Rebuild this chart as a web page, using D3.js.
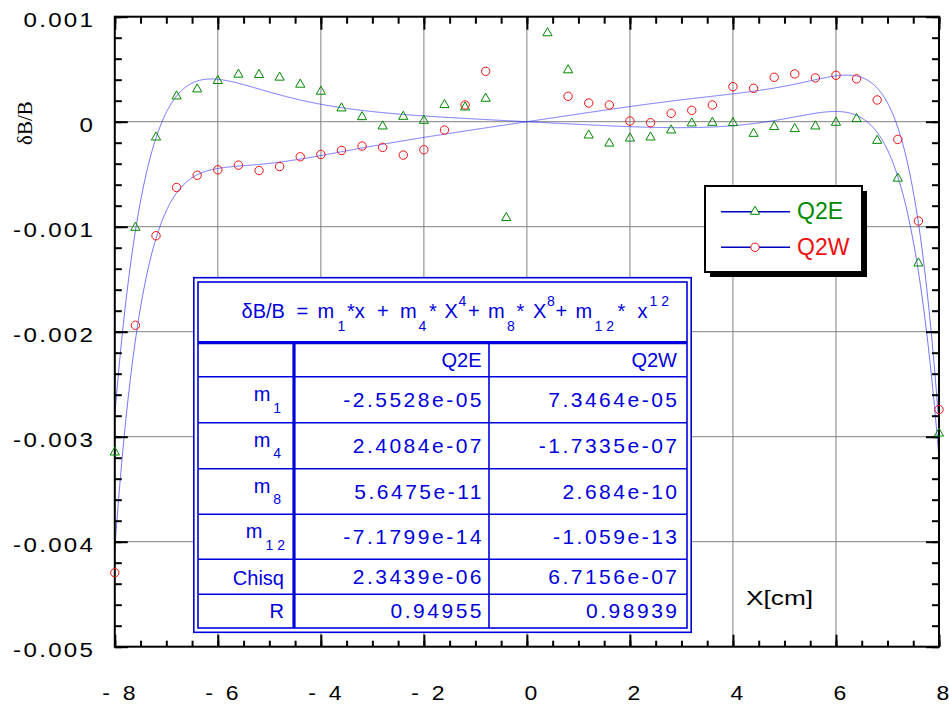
<!DOCTYPE html>
<html>
<head>
<meta charset="utf-8">
<script src="https://cdn.jsdelivr.net/npm/d3@7"></script>
<style>
  body { margin: 0; background: #fff; }
  svg { display: block; font-family: "Liberation Sans", Arial, Helvetica, sans-serif; }
</style>
</head>
<body>
<svg id="chart" width="949" height="706"></svg>
<script>
// ---- measured field error, dB/B versus transverse position X[cm] ----
const q2eX = [-8, -7.6, -7.2, -6.8, -6.4, -6.0, -5.6, -5.2, -4.8, -4.4, -4.0, -3.6, -3.2, -2.8, -2.4, -2.0, -1.6, -1.2, -0.8, -0.4,
              0.4, 0.8, 1.2, 1.6, 2.0, 2.4, 2.8, 3.2, 3.6, 4.0, 4.4, 4.8, 5.2, 5.6, 6.0, 6.4, 6.8, 7.2, 7.6, 8.0];
const q2eY = [-0.00314, -0.00100, -0.000140, 0.000251, 0.000318, 0.000398, 0.000458, 0.000455, 0.000430, 0.000363,
              0.000296, 0.000137, 0.000054, -0.000035, 0.000057, 0.000019, 0.000169, 0.000146, 0.000229, -0.000907,
              0.000853, 0.000500, -0.000121, -0.000198, -0.000150, -0.000140, -0.000073, -0.000006, 0.000000, -0.000003,
              -0.000105, -0.000041, -0.000060, -0.000035, 0.000000, 0.000035, -0.000172, -0.000532, -0.00134, -0.00296];

const q2wX = [-8, -7.6, -7.2, -6.8, -6.4, -6.0, -5.6, -5.2, -4.8, -4.4, -4.0, -3.6, -3.2, -2.8, -2.4, -2.0, -1.6, -1.2, -0.8,
              0.8, 1.2, 1.6, 2.0, 2.4, 2.8, 3.2, 3.6, 4.0, 4.4, 4.8, 5.2, 5.6, 6.0, 6.4, 6.8, 7.2, 7.6, 8.0];
const q2wY = [-0.004295, -0.001939, -0.001086, -0.000627, -0.000510, -0.000458, -0.000414, -0.000465, -0.000427, -0.000334,
              -0.000312, -0.000274, -0.000232, -0.000245, -0.000318, -0.000267, -0.000079, 0.000159, 0.000480,
              0.000242, 0.000178, 0.000159, 0.000006, -0.000010, 0.000080, 0.000108, 0.000159, 0.000334, 0.000318,
              0.000423, 0.000455, 0.000417, 0.000442, 0.000408, 0.000207, -0.000169, -0.000946, -0.002741];

// ---- fit: dB/B = m1*x + m4*x^4 + m8*x^8 + m12*x^12 ----
const fitPowers = [1, 4, 8, 12];
const fitNames = ["1", "4", "8", "1 2"];
const q2eCoef = [-2.5528e-05, 2.4084e-07, 5.6475e-11, -7.1799e-14];
const q2wCoef = [7.3464e-05, -1.7335e-07, 2.684e-10, -1.059e-13];
const seriesNames = ["Q2E", "Q2W"];
const chisqValues = [2.3439e-06, 6.7156e-07];
const rValues = ["0.94955", "0.98939"];

// ---- axis ticks ----
const xTickValues = [-8, -6, -4, -2, 0, 2, 4, 6, 8];
const xTickLabels = ["-  8", "-  6", "-  4", "-  2", "0", "2", "4", "6", "8"];
const yTickValues = [0.001, 0, -0.001, -0.002, -0.003, -0.004, -0.005];
const yTickLabels = ["0.001", "0", "-0.001", "-0.002", "-0.003", "-0.004", "-0.005"];

const GREEN = "#008a00", RED = "#ee1111", BLUE = "#0000dd";

const svg = d3.select("#chart");
const L = 114.8, R = 939, T = 16.7, B = 646.7;
const x = d3.scaleLinear().domain([-8, 8]).range([L, R]);
const y = d3.scaleLinear().domain([-0.005, 0.001]).range([B, T]);

// grid
const grid = svg.append("g").attr("stroke", "#808080").attr("stroke-width", 1);
grid.selectAll("line.gx").data(d3.range(-6, 6.1, 2)).join("line")
  .attr("x1", d => x(d)).attr("x2", d => x(d)).attr("y1", T).attr("y2", B);
grid.selectAll("line.gy").data(d3.range(-0.004, 0.0001, 0.001)).join("line")
  .attr("y1", d => y(d)).attr("y2", d => y(d)).attr("x1", L).attr("x2", R);

// fitted curves
const defs = svg.append("defs");
defs.append("clipPath").attr("id", "plotClip").append("rect")
  .attr("x", L).attr("y", T).attr("width", R - L).attr("height", B - T);
const fit = (coef) => (v) => d3.sum(coef, (c, i) => c * Math.pow(v, fitPowers[i]));
const xs = d3.range(-8, 8.0001, 0.01);
const line = d3.line().x(d => x(d[0])).y(d => y(d[1]));
const curves = svg.append("g").attr("clip-path", "url(#plotClip)");
[q2eCoef, q2wCoef].forEach(coef => {
  const f = fit(coef);
  curves.append("path").datum(xs.map(v => [v, f(v)]))
    .attr("d", line).attr("fill", "none").attr("stroke", "#2a2aff")
    .attr("stroke-opacity", 0.65).attr("stroke-width", 1);
});

// axes (ticks point inward)
function styleAxis(g) {
  g.select(".domain").remove();
  g.selectAll(".tick line").attr("stroke", "#000").attr("stroke-width", 2);
}
const yMinor = d3.range(-0.005, 0.00101, 0.0002);
const xMinor = d3.range(-8, 8.01, 0.5);
svg.append("g").attr("transform", `translate(${L},0)`)
  .call(d3.axisLeft(y).tickValues(yMinor).tickSize(-7).tickFormat("")).call(styleAxis);
svg.append("g").attr("transform", `translate(${R},0)`)
  .call(d3.axisRight(y).tickValues(yMinor).tickSize(-7).tickFormat("")).call(styleAxis);
svg.append("g").attr("transform", `translate(${R},0)`)
  .call(d3.axisRight(y).tickValues(yTickValues).tickSize(-13).tickFormat("")).call(styleAxis);
svg.append("g").attr("transform", `translate(0,${T})`)
  .call(d3.axisTop(x).tickValues(xMinor).tickSize(-7).tickFormat("")).call(styleAxis);
svg.append("g").attr("transform", `translate(0,${T})`)
  .call(d3.axisTop(x).tickValues(xTickValues).tickSize(-13).tickFormat("")).call(styleAxis);
svg.append("g").attr("transform", `translate(0,${B})`)
  .call(d3.axisBottom(x).tickValues(xMinor).tickSize(-6).tickFormat("")).call(styleAxis);

// axis labels use a slightly widened face
const yAxis = svg.append("g").attr("transform", `translate(${L},0)`)
  .call(d3.axisLeft(y).tickValues(yTickValues).tickSize(-13)
        .tickFormat((d, i) => yTickLabels[i])).call(styleAxis);
yAxis.selectAll(".tick text")
  .attr("x", null).attr("y", null).attr("dy", null)
  .attr("transform", "translate(-19.5,10) scale(1.15,1)")
  .attr("fill", "#000").attr("font-size", 21).attr("letter-spacing", 2)
  .attr("font-family", '"Liberation Sans", Arial, sans-serif');

const xAxis = svg.append("g").attr("transform", `translate(0,${B})`)
  .call(d3.axisBottom(x).tickValues(xTickValues).tickSize(-12)
        .tickFormat((d, i) => xTickLabels[i])).call(styleAxis);
xAxis.selectAll(".tick text")
  .attr("x", null).attr("y", null).attr("dy", null)
  .attr("transform", "translate(3.5,53) scale(1.15,1)")
  .style("white-space", "pre")
  .attr("fill", "#000").attr("font-size", 20)
  .attr("font-family", '"Liberation Sans", Arial, sans-serif');

// frame
svg.append("rect").attr("x", L).attr("y", T).attr("width", R - L).attr("height", B - T)
  .attr("fill", "none").attr("stroke", "#000").attr("stroke-width", 2);

// axis titles
svg.append("text").attr("transform", "translate(31.5,123) rotate(-90)")
  .attr("text-anchor", "middle").attr("font-family", '"Liberation Serif", "Times New Roman", serif')
  .attr("font-size", 21).text("δB/B");
svg.append("text").attr("transform", "translate(746,605) scale(1.25,1)").attr("font-size", 21)
  .text("X[cm]");

// data markers
const triPath = "M0,-4.5L4.6,3.6L-4.6,3.6Z";
svg.append("g").selectAll("path").data(q2eX.map((v, i) => [v, q2eY[i]])).join("path")
  .attr("transform", d => `translate(${x(d[0])},${y(d[1])})`)
  .attr("d", triPath).attr("fill", "none").attr("stroke", GREEN).attr("stroke-width", 1);
svg.append("g").selectAll("circle").data(q2wX.map((v, i) => [v, q2wY[i]])).join("circle")
  .attr("cx", d => x(d[0])).attr("cy", d => y(d[1])).attr("r", 4.2)
  .attr("fill", "none").attr("stroke", RED).attr("stroke-width", 1);

// legend
const lg = svg.append("g");
lg.append("rect").attr("x", 710).attr("y", 191).attr("width", 157).attr("height", 86).attr("fill", "#000");
lg.append("rect").attr("x", 705).attr("y", 186).attr("width", 157).attr("height", 86)
  .attr("fill", "#fff").attr("stroke", "#000").attr("stroke-width", 2);
[[211.7, 219.3, GREEN], [247.3, 255, RED]].forEach(([ly, ty, col], i) => {
  lg.append("line").attr("x1", 721).attr("x2", 790).attr("y1", ly).attr("y2", ly)
    .attr("stroke", "#0000c0").attr("stroke-width", 1.5);
  if (i === 0) {
    lg.append("path").attr("transform", `translate(755,${ly - 1})`).attr("d", triPath)
      .attr("fill", "#fff").attr("stroke", GREEN).attr("stroke-width", 1);
  } else {
    lg.append("circle").attr("cx", 755).attr("cy", ly).attr("r", 4.2)
      .attr("fill", "#fff").attr("stroke", RED).attr("stroke-width", 1);
  }
  lg.append("text").attr("x", 797).attr("y", ty).attr("font-size", 23).attr("fill", col)
    .text(seriesNames[i]);
});

// fit results table
const expFmt = v => {
  const [m, e] = v.toExponential().split("e");
  const neg = e[0] === "-";
  const digits = e.replace(/[+-]/, "").padStart(2, "0");
  return m + "e" + (neg ? "-" : "+") + digits;
};
const tb = svg.append("g").attr("fill", BLUE);
tb.append("rect").attr("x", 193.8).attr("y", 277.7).attr("width", 497.4).attr("height", 354.6)
  .attr("fill", "#fff").attr("stroke", BLUE).attr("stroke-width", 1.6);
tb.append("rect").attr("x", 198).attr("y", 282).attr("width", 489).attr("height", 346)
  .attr("fill", "none").attr("stroke", BLUE).attr("stroke-width", 1.6);
const rowLines = [376.7, 422.7, 468.7, 514.3, 559.3, 594.3];
tb.selectAll("line.row").data(rowLines).join("line")
  .attr("x1", 198).attr("x2", 687).attr("y1", d => d).attr("y2", d => d)
  .attr("stroke", BLUE).attr("stroke-width", 1.4);
tb.append("line").attr("x1", 198).attr("x2", 687).attr("y1", 342.7).attr("y2", 342.7)
  .attr("stroke", BLUE).attr("stroke-width", 3.2);
tb.append("line").attr("x1", 294).attr("x2", 294).attr("y1", 342.7).attr("y2", 628)
  .attr("stroke", BLUE).attr("stroke-width", 3.2);
tb.append("line").attr("x1", 489).attr("x2", 489).attr("y1", 342.7).attr("y2", 628)
  .attr("stroke", BLUE).attr("stroke-width", 1.6);

// formula header: [text, shift (1 = subscript, -1 = superscript), left x]
const formula = [
  ["δB/B", 0, 241.5], ["=", 0, 296.5], ["m", 0, 317.5], [fitNames[0], 1, 337.5], ["*x", 0, 347],
  ["+", 0, 377], ["m", 0, 400], [fitNames[1], 1, 418.5], ["*", 0, 429], ["X", 0, 444.5], ["4", -1, 458.5],
  ["+", 0, 468], ["m", 0, 488], [fitNames[2], 1, 507], ["*", 0, 516.5], ["X", 0, 533], ["8", -1, 547],
  ["+", 0, 555.5], ["m", 0, 575.5], [fitNames[3], 1, 594.5], ["*", 0, 617.5], ["x", 0, 637.5], ["1 2", -1, 649.5]
];
const ft = tb.append("text").attr("font-size", 20).style("white-space", "pre");
formula.forEach(([t, s, px]) => {
  ft.append("tspan").attr("x", px).attr("y", 318.3 + s * 12.3)
    .attr("font-size", s === 0 ? 20 : 14).text(t);
});

// column headers
const colRight = [481.5, 677];
seriesNames.forEach((n, i) => {
  tb.append("text").attr("x", colRight[i]).attr("y", 366.7).attr("text-anchor", "end")
    .attr("font-size", 20).text(n);
});

// rows
const rowBase = [407.3, 452.7, 498.7, 544, 584.3, 618.3];
const coefs = [q2eCoef, q2wCoef];
fitPowers.forEach((p, r) => {
  const sub = fitNames[r].length === 1 ? fitNames[r] + " " : fitNames[r];
  const lbl = tb.append("text").attr("x", 285).attr("y", rowBase[r] - 6).attr("text-anchor", "end")
    .attr("font-size", 20).style("white-space", "pre");
  lbl.append("tspan").text("m");
  lbl.append("tspan").attr("dx", 3).attr("dy", 11.7).attr("font-size", 14).text(sub);
  coefs.forEach((c, i) => {
    tb.append("text").attr("x", colRight[i] + 2.5).attr("y", rowBase[r]).attr("text-anchor", "end")
      .attr("font-size", 21).attr("letter-spacing", 2.5).text(expFmt(c[r]));
  });
});
tb.append("text").attr("x", 284).attr("y", 585).attr("text-anchor", "end").attr("font-size", 20).text("Chisq");
tb.append("text").attr("x", 284).attr("y", 618.3).attr("text-anchor", "end").attr("font-size", 20).text("R");
chisqValues.forEach((v, i) => {
  tb.append("text").attr("x", colRight[i] + 2.5).attr("y", rowBase[4]).attr("text-anchor", "end")
    .attr("font-size", 21).attr("letter-spacing", 2.5).text(expFmt(v));
});
rValues.forEach((v, i) => {
  tb.append("text").attr("x", colRight[i] + 2.5).attr("y", rowBase[5]).attr("text-anchor", "end")
    .attr("font-size", 21).attr("letter-spacing", 2.5).text(v);
});
</script>
</body>
</html>
